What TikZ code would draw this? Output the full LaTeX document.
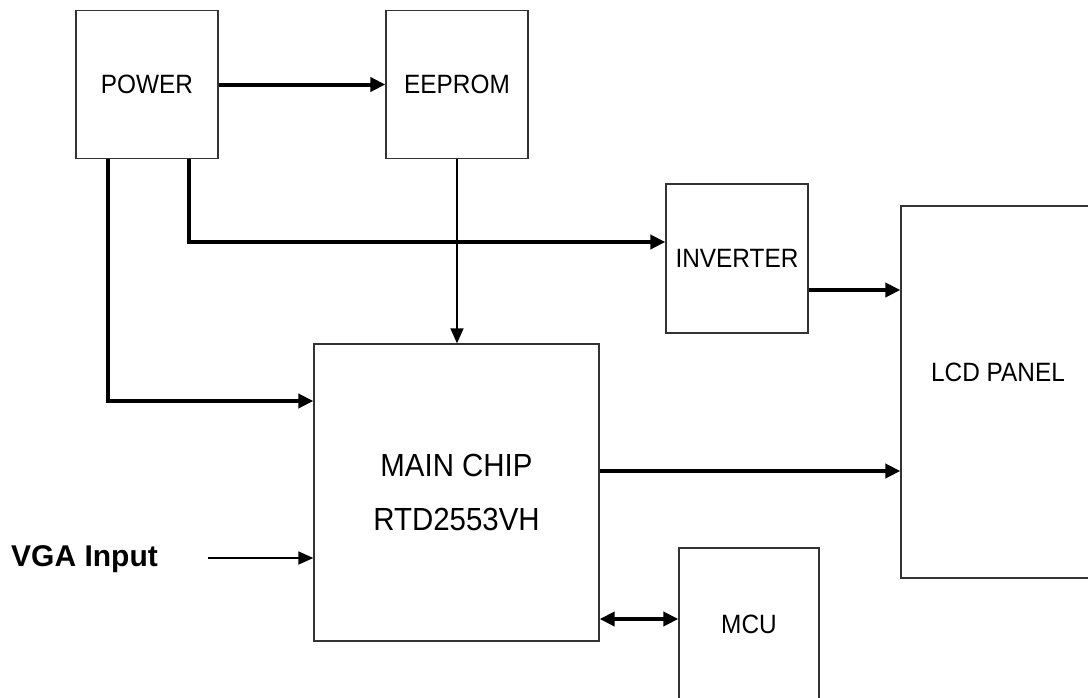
\documentclass[tikz,border=0pt]{standalone}
\usepackage{fontspec}
\setmainfont{Liberation Sans}
\newfontfamily\mbfont[FakeStretch=0.92]{Liberation Sans}
\usetikzlibrary{arrows.meta}

\tikzset{mbbox/.style={draw=black!80,line width=1.3pt,fill=white,inner sep=0pt,font=\mbfont\fontsize{26.5}{30}\selectfont},
         mbthick/.style={line width=4pt,-{Triangle[length=15pt,width=14pt]}},
         mbboth/.style={line width=4pt,{Triangle[length=15pt,width=14pt]}-{Triangle[length=15pt,width=14pt]}},
         mbthin/.style={line width=1.5pt,-{Triangle[length=15pt,width=13pt]}}}

\begin{document}
\begin{tikzpicture}[x=1pt,y=-1pt]
  \useasboundingbox (0,0) rectangle (1088,697);
  \clip (0,0) rectangle (1088,697);
  % blocks
  \node[mbbox,minimum width=142pt,minimum height=148pt] (pwr) at (147,84.5) {POWER};
  \node[mbbox,minimum width=142pt,minimum height=148pt] (eep) at (457,84.5) {EEPROM};
  \node[mbbox,minimum width=142pt,minimum height=149pt] (inv) at (737,258.5) {INVERTER};
  \node[mbbox,minimum width=194pt,minimum height=372pt] (lcd) at (998,392) {};
  \node[font=\mbfont\fontsize{26.5}{30}\selectfont,inner sep=0pt] (lcdlab) at (998,372) {LCD PANEL};
  \node[mbbox,minimum width=285pt,minimum height=297pt,align=center,font=\mbfont\fontsize{32}{54}\selectfont] (main) at (456.5,492.5) {MAIN CHIP\\RTD2553VH};
  \node[mbbox,minimum width=140pt,minimum height=152pt] (mcu) at (749,624) {MCU};
  % input
  \node[anchor=west,inner sep=0pt,font=\fontsize{30}{34}\selectfont\bfseries] (vga) at (11,559) {VGA Input};
  \coordinate (vgain) at (208,558);
  % port points
  \coordinate (invout) at ([yshift=-31.5pt]inv.east);
  \coordinate (mainout) at ([yshift=21.5pt]main.east);
  \coordinate (mainio) at ([yshift=-126.5pt]main.east);
  % connections
  \draw[mbthick] (pwr) -- (eep);
  \draw[mbthick] ([xshift=42pt]pwr.south) |- ([yshift=16.5pt]inv.west);
  \draw[mbthick] ([xshift=-39pt]pwr.south) |- ([yshift=91.5pt]main.west);
  \draw[mbthin] (eep.south) -- (eep.south |- main.north);
  \draw[mbthick] (invout) -- (lcd.west |- invout);
  \draw[mbthick] (mainout) -- (lcd.west |- mainout);
  \draw[mbthin] (vgain) -- (main.west |- vgain);
  \draw[mbboth] (mainio) -- (mcu.west |- mainio);
\end{tikzpicture}
\end{document}
